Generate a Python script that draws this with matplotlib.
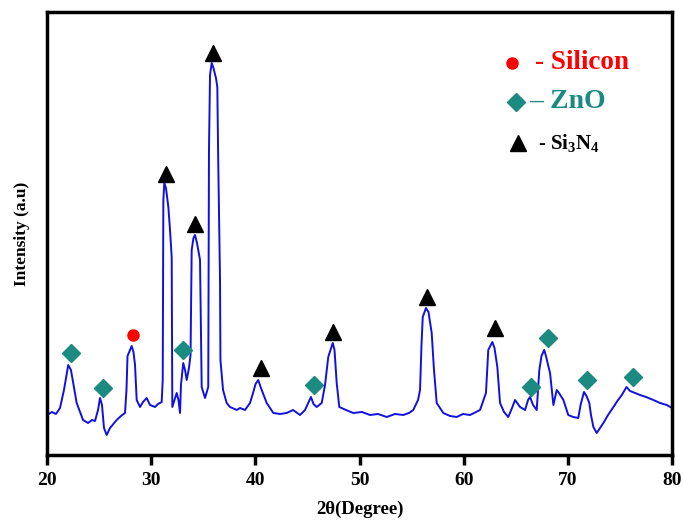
import numpy as np
import matplotlib
matplotlib.use('Agg')
import matplotlib.pyplot as plt

plt.rcParams['font.family'] = ['Liberation Serif', 'DejaVu Serif']
plt.rcParams['mathtext.default'] = 'regular'

# XRD pattern: 2theta (deg), intensity (a.u.)
two_theta = [20.00, 20.48, 20.86, 21.25, 21.63, 22.04, 22.30, 22.85, 23.46, 23.94,
             24.32, 24.61, 24.90, 25.09, 25.28, 25.47, 25.73, 26.05, 26.69, 27.10,
             27.49, 27.63, 27.73, 27.97, 28.13, 28.30, 28.45, 28.61, 28.93, 29.22,
             29.57, 29.89, 30.37, 30.66, 31.01, 31.11, 31.17, 31.26, 31.42, 31.65,
             31.81, 31.97, 32.03, 32.24, 32.45, 32.62, 32.77, 32.86, 33.08, 33.25,
             33.41, 33.63, 33.78, 33.89, 34.06, 34.21, 34.40, 34.69, 34.78, 34.85,
             35.17, 35.48, 35.55, 35.65, 35.81, 35.98, 36.22, 36.35, 36.44, 36.61,
             36.65, 36.90, 37.25, 37.57, 38.21, 38.53, 39.01, 39.49, 39.78, 40.02,
             40.28, 40.54, 41.09, 41.73, 42.37, 43.01, 43.62, 44.29, 44.77, 45.08,
             45.34, 45.58, 45.89, 46.37, 46.69, 47.00, 47.43, 47.60, 47.81, 48.06,
             48.70, 49.40, 50.24, 51.01, 51.78, 52.61, 53.41, 54.20, 54.75, 55.16,
             55.62, 55.81, 55.95, 56.07, 56.38, 56.62, 56.93, 57.15, 57.41, 58.04,
             58.69, 59.33, 59.94, 60.61, 61.18, 61.57, 62.14, 62.36, 62.75, 62.96,
             63.23, 63.49, 63.87, 64.28, 64.64, 64.93, 65.41, 65.89, 66.18, 66.37,
             66.66, 67.01, 67.26, 67.47, 67.73, 67.90, 68.10, 68.29, 68.61, 68.93,
             69.15, 69.57, 70.04, 70.50, 71.00, 71.22, 71.55, 71.79, 72.06, 72.22,
             72.45, 72.77, 73.09, 73.41, 73.86, 74.37, 74.82, 75.18, 75.63, 75.97,
             76.45, 76.93, 77.50, 78.21, 78.85, 79.49, 80.00]
intensity = [40, 43, 41, 47, 65, 90, 85, 52, 35, 32,
             35, 34, 45, 57, 50, 27, 20, 27, 35, 39,
             42, 65, 99, 105, 109, 103, 90, 55, 48, 53,
             57, 50, 48, 51, 53, 75, 255, 272, 267, 248,
             225, 198, 48, 55, 62, 55, 42, 70, 92, 85,
             75, 87, 100, 205, 217, 220, 212, 195, 125, 68,
             57, 68, 305, 380, 392, 387, 377, 368, 292, 175,
             95, 65, 52, 48, 45, 47, 45, 52, 62, 71,
             75, 67, 52, 42, 41, 42, 45, 40, 45, 52,
             58, 51, 48, 52, 70, 98, 112, 105, 72, 48,
             45, 42, 43, 40, 41, 38, 41, 40, 42, 45,
             55, 65, 110, 138, 147, 143, 122, 85, 52, 42,
             39, 38, 41, 40, 43, 45, 62, 105, 113, 107,
             88, 52, 43, 38, 47, 55, 48, 45, 55, 58,
             50, 45, 85, 99, 105, 99, 90, 82, 50, 65,
             62, 55, 40, 38, 37, 50, 63, 59, 52, 40,
             28, 22, 27, 32, 40, 48, 55, 60, 68, 64,
             62, 60, 58, 55, 52, 50, 47]

# peak markers
si_x, si_y = [28.23], [120]
zno_x = [22.30, 25.38, 33.03, 45.66, 66.46, 68.12, 71.81, 76.23]
zno_y = [102, 67, 105, 70, 68, 117, 75, 78]
sin_x = [31.42, 34.24, 35.91, 40.54, 47.49, 56.45, 62.98]
sin_y = [281, 231, 402, 87, 123, 158, 127]

teal = '#1b8a80'

fig = plt.figure(figsize=(6.84, 5.21), dpi=100)
ax = fig.add_axes([0.0687, 0.1267, 0.9138, 0.8503])

ax.plot(two_theta, intensity, color='#1010e0', lw=1.4)
ax.plot(si_x, si_y, 'o', color='red', ms=8, ls='none')
ax.plot(zno_x, zno_y, 'D', color=teal, ms=9, ls='none')
ax.plot(sin_x, sin_y, '^', color='black', ms=11, ls='none')

ax.set_xlim(20, 80)
ax.set_ylim(0, 443)
ax.set_xticks(np.arange(20, 81, 10))
ax.set_yticks([])
for s in ax.spines.values():
    s.set_linewidth(2.5)
ax.tick_params(axis='x', direction='out', length=7, width=2.5, labelsize=14, pad=5)
for lab in ax.get_xticklabels():
    lab.set_fontweight('bold')

ax.set_xlabel('2θ(Degree)', fontsize=13.5, fontweight='bold', labelpad=9)
ax.set_ylabel('Intensity (a.u)', fontsize=12.5, fontweight='bold', labelpad=12)

# legend drawn by hand like the original
ax.plot([0.744], [0.885], 'o', color='red', ms=8, transform=ax.transAxes)
ax.text(0.780, 0.885, '- Silicon', color='red', fontsize=19.5, fontweight='bold',
        va='center', transform=ax.transAxes)
ax.plot([0.750], [0.797], 'D', color=teal, ms=9, transform=ax.transAxes)
ax.text(0.772, 0.797, '– ZnO', color=teal, fontsize=20, fontweight='bold',
        va='center', transform=ax.transAxes)
ax.plot([0.754], [0.704], '^', color='black', ms=11, transform=ax.transAxes)
ax.text(0.785, 0.704, '- Si$_3$N$_4$', color='black', fontsize=15, fontweight='bold',
        va='center', transform=ax.transAxes)

fig.savefig('out.png', dpi=100)
